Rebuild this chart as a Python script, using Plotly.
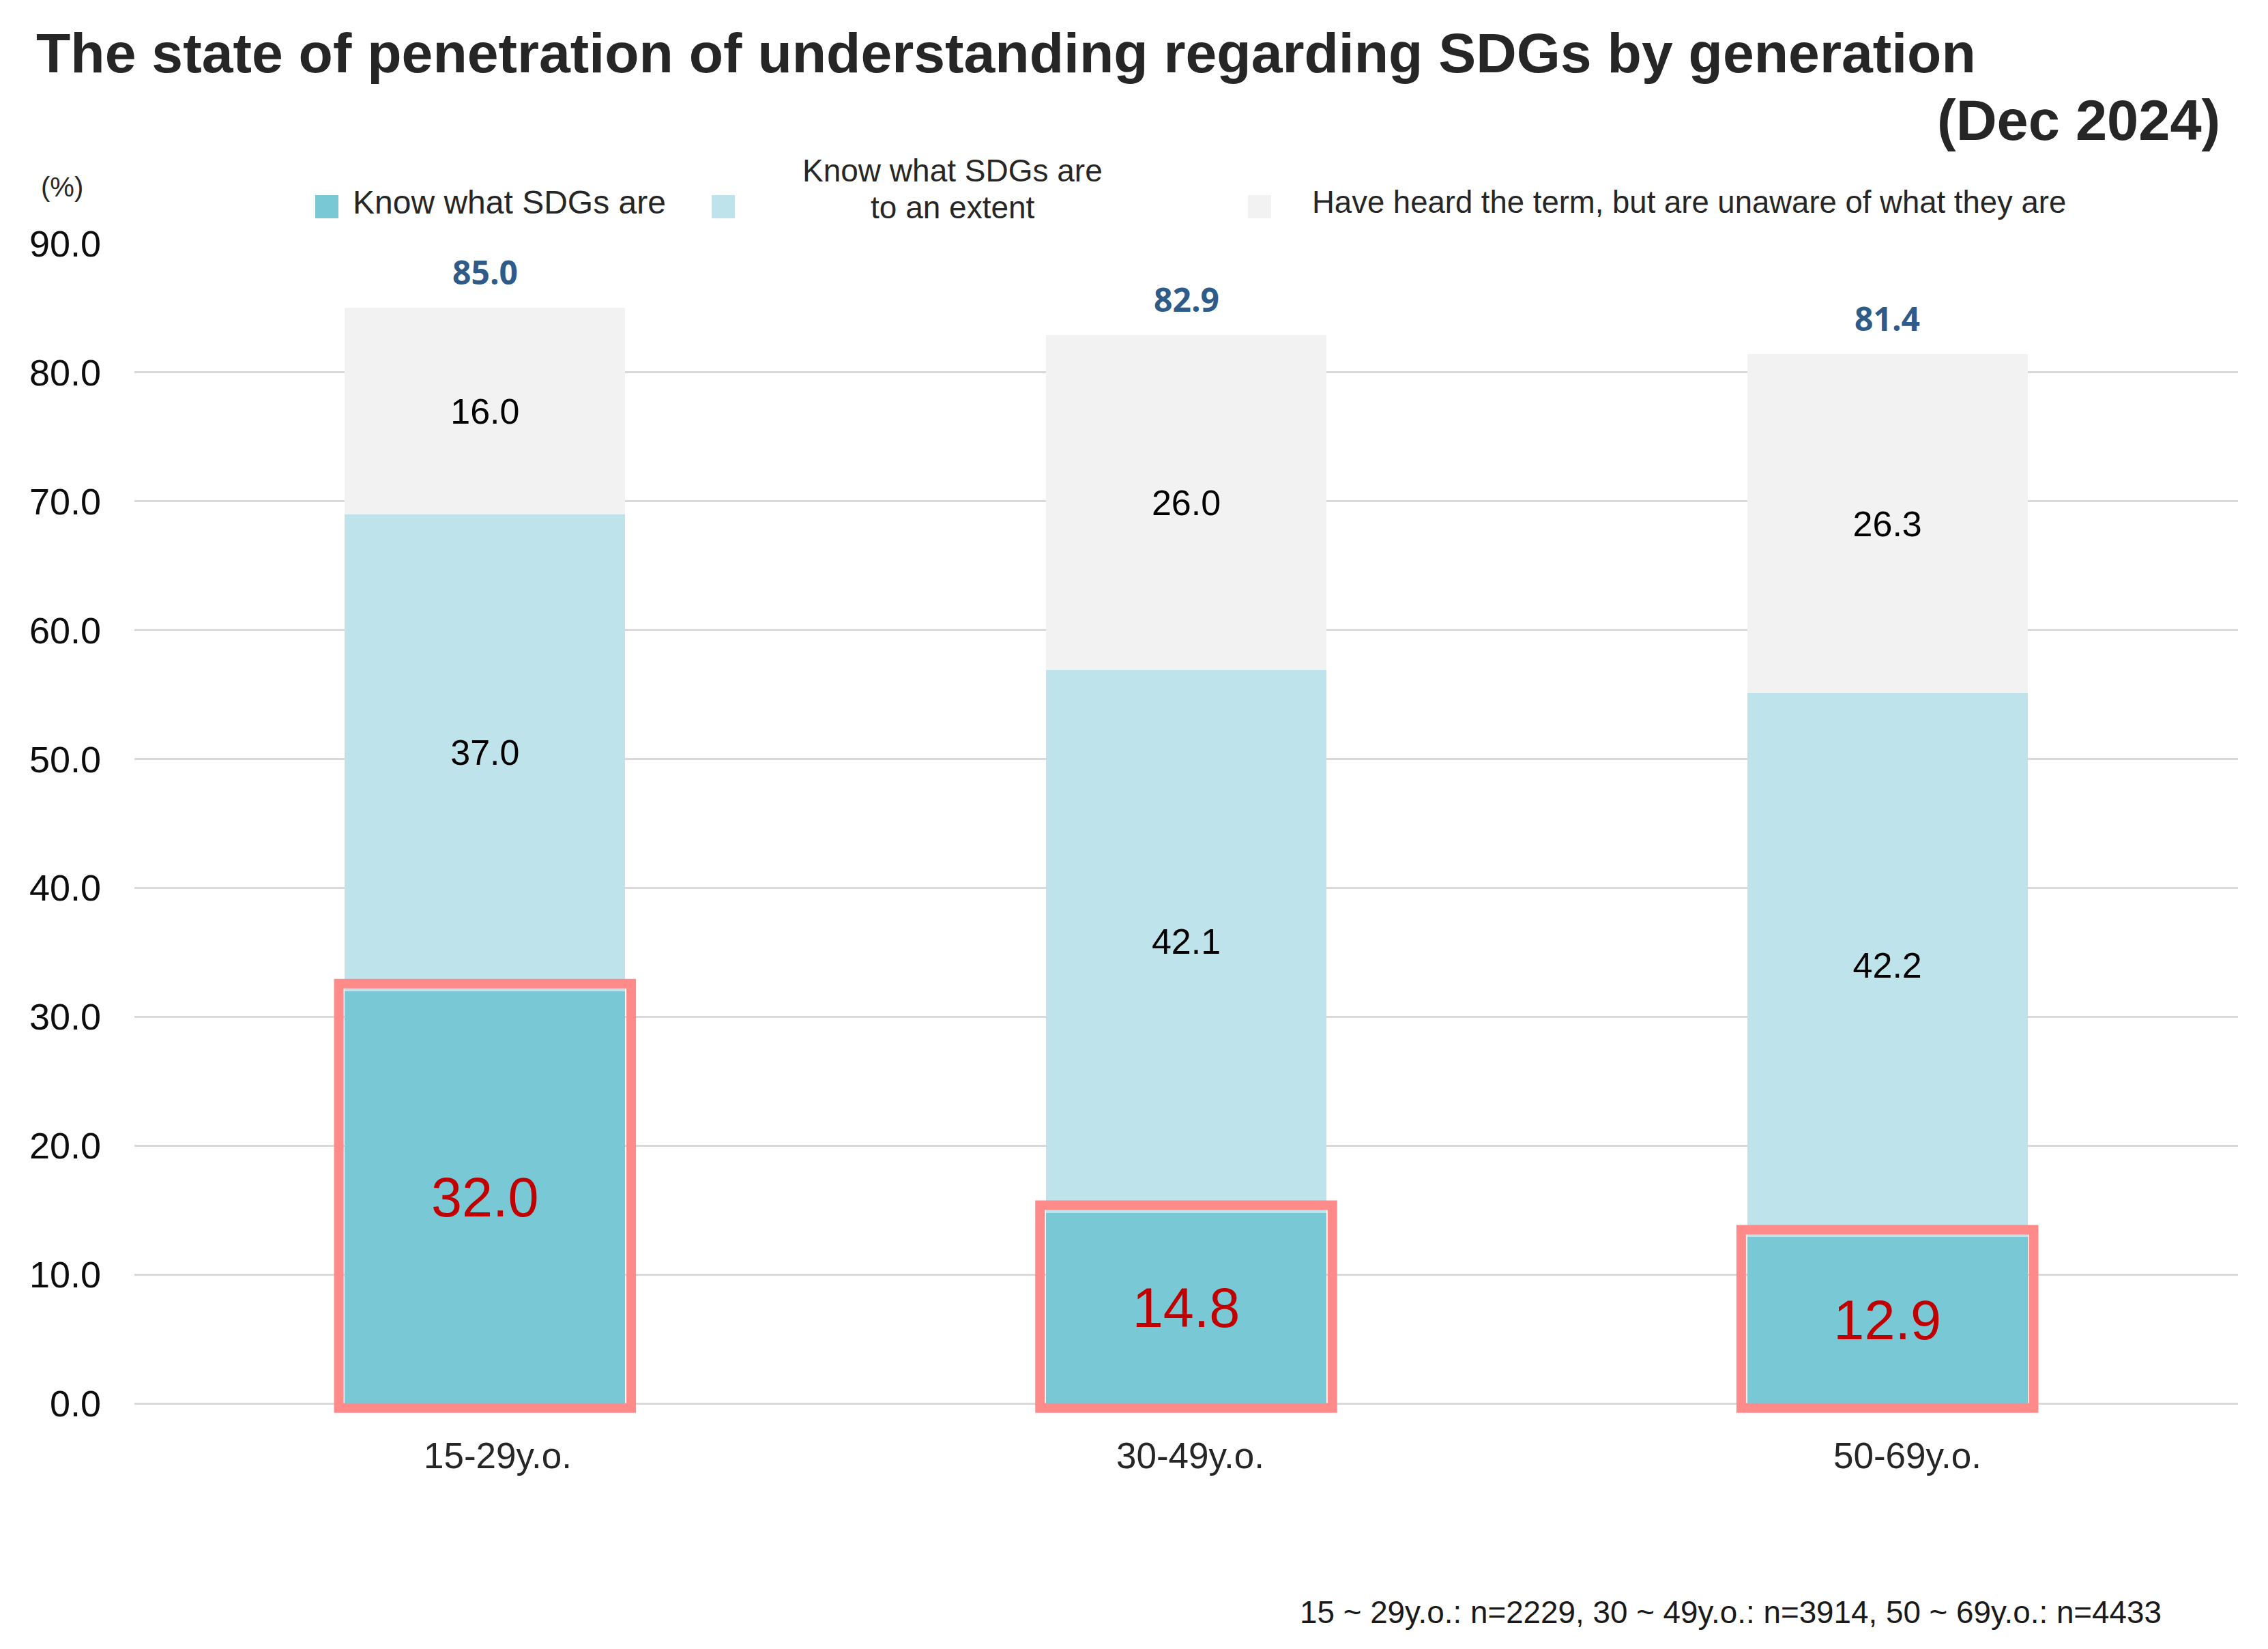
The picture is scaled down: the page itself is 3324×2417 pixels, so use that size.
import plotly.graph_objects as go

# ---- data ----
categories = ["15-29y.o.", "30-49y.o.", "50-69y.o."]
know = [32.0, 14.8, 12.9]
know_extent = [37.0, 42.1, 42.2]
heard_only = [16.0, 26.0, 26.3]
totals = [85.0, 82.9, 81.4]
series_names = ["Know what SDGs are", "Know what SDGs are<br>to an extent",
                "Have heard the term, but are unaware of what they are"]
series_colors = ["#78C8D6", "#BEE3EB", "#F2F2F2"]
title_text = "The state of penetration of understanding regarding SDGs by generation"
subtitle_text = "(Dec 2024)"
footnote = "15 ~ 29y.o.: n=2229, 30 ~ 49y.o.: n=3914, 50 ~ 69y.o.: n=4433"

# ---- geometry (page pixels; the page body adds an 8px offset) ----
OFF = 8
W, H = 3324 - 2 * OFF, 2417 - 2 * OFF
L, R, T, B = 197 - OFF, 3280 - OFF, 357 - OFF, 2076 - OFF
FONT = "Liberation Sans, Arial, sans-serif"
BAR_W = 0.4
label_xshift = [19, 6, 29]


def px_x(px):
    return (px - OFF - L) / (R - L)


def px_y(py):
    return (B - (py - OFF)) / (B - T)


fig = go.Figure()
label_fonts = [dict(size=81, color="#C00000", family=FONT),
               dict(size=52, color="#000000", family=FONT),
               dict(size=52, color="#000000", family=FONT)]
for vals, name, col, tf in zip([know, know_extent, heard_only], series_names,
                               series_colors, label_fonts):
    fig.add_trace(go.Bar(
        x=categories, y=vals, name=name, width=BAR_W,
        marker=dict(color=col, line=dict(width=0)),
        texttemplate="%{y:.1f}", textposition="inside",
        insidetextanchor="middle", textangle=0, constraintext="none",
        textfont=tf, showlegend=False,
    ))

# totals above bars
for c, t in zip(categories, totals):
    fig.add_annotation(x=c, y=t, text=f"<b>{t:.1f}</b>", showarrow=False,
                       yanchor="middle", yshift=53,
                       font=dict(size=48, color="#2E5B87", family="Open Sans, sans-serif"))

# category labels (slightly offset like the original)
for c, dx in zip(categories, label_xshift):
    fig.add_annotation(x=c, xref="x", yref="paper", y=px_y(2133), xshift=dx,
                       yanchor="middle", showarrow=False, text=c,
                       font=dict(size=53, color="#262626", family=FONT))

# red highlight rectangles around first segment
pad_x = 0.0085
for i, v in enumerate(know):
    fig.add_shape(type="rect", xref="x", yref="y",
                  x0=i - BAR_W / 2 - pad_x, x1=i + BAR_W / 2 + pad_x,
                  y0=-0.35, y1=v + 0.58,
                  line=dict(color="#FF8A8A", width=14), fillcolor="rgba(0,0,0,0)",
                  layer="above")

# manual legend
sq = [(462, 496), (1043, 1077), (1829, 1863)]
for (x0, x1), col in zip(sq, series_colors):
    fig.add_shape(type="rect", xref="paper", yref="paper",
                  x0=px_x(x0), x1=px_x(x1), y0=px_y(320), y1=px_y(286),
                  line=dict(width=0), fillcolor=col)
fig.add_annotation(xref="paper", yref="paper", x=px_x(515), y=px_y(297),
                   xanchor="left", yanchor="middle", showarrow=False,
                   text=series_names[0], font=dict(size=48, color="#262626", family=FONT))
for line_text, ly in zip(series_names[1].split("<br>"), [250, 304]):
    fig.add_annotation(xref="paper", yref="paper", x=px_x(1396), y=px_y(ly),
                       xanchor="center", yanchor="middle", showarrow=False,
                       text=line_text, font=dict(size=46, color="#262626", family=FONT))
fig.add_annotation(xref="paper", yref="paper", x=px_x(1921), y=px_y(297),
                   xanchor="left", yanchor="middle", showarrow=False,
                   text=series_names[2], font=dict(size=45.5, color="#262626", family=FONT))

# titles & notes
fig.add_annotation(xref="paper", yref="paper", x=px_x(51), y=px_y(77),
                   xanchor="left", yanchor="middle", showarrow=False,
                   text=f"<b>{title_text}</b>", font=dict(size=82.4, color="#262626", family=FONT))
fig.add_annotation(xref="paper", yref="paper", x=px_x(3256), y=px_y(177),
                   xanchor="right", yanchor="middle", showarrow=False,
                   text=f"<b>{subtitle_text}</b>", font=dict(size=83, color="#262626", family=FONT))
fig.add_annotation(xref="paper", yref="paper", x=px_x(58), y=px_y(274),
                   xanchor="left", yanchor="middle", showarrow=False,
                   text="(%)", font=dict(size=40, color="#262626", family=FONT))
fig.add_annotation(xref="paper", yref="paper", x=px_x(3170), y=px_y(2363),
                   xanchor="right", yanchor="middle", showarrow=False,
                   text=footnote, font=dict(size=45.8, color="#1A1A1A", family=FONT))

fig.update_layout(
    width=W, height=H,
    margin=dict(l=L, r=W - R, t=T, b=H - B, pad=0),
    barmode="stack", plot_bgcolor="white", paper_bgcolor="white",
    font=dict(family=FONT),
)
fig.update_xaxes(range=[-0.5, 2.5], showgrid=False, ticks="", showline=False,
                 showticklabels=False)
fig.update_yaxes(range=[-1, 90], dtick=10, tick0=0, tickformat=".1f",
                 showgrid=True, gridcolor="#D9D9D9", gridwidth=3,
                 zeroline=False, showline=False, ticks="",
                 tickfont=dict(size=54, color="#0D0D0D", family=FONT),
                 ticklabelstandoff=48)

fig.write_html("out.html")
